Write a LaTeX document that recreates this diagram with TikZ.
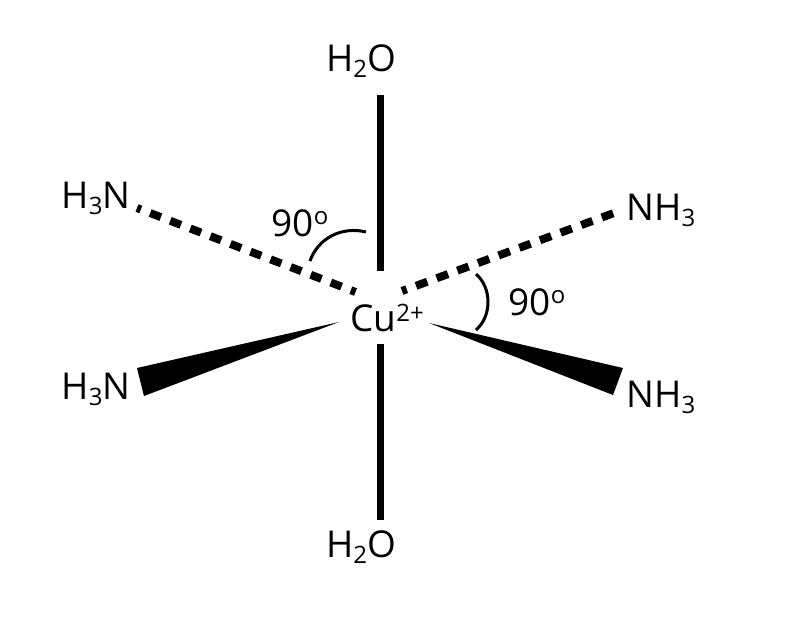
\documentclass[tikz,border=0pt]{standalone}
\usepackage{fontspec}
\setmainfont{Open Sans}
\newcommand{\subn}[1]{\raisebox{-0.3ex}{\fontsize{24}{24}\selectfont #1}}
\newcommand{\supn}[1]{\raisebox{0.55ex}{\fontsize{24}{24}\selectfont #1}}
\begin{document}
\begin{tikzpicture}[x=1pt,y=-1pt,
  lab/.style={inner sep=0pt,font=\fontsize{37}{37}\selectfont,text=black,anchor=center},
  bond/.style={line width=7pt,black},
  hashl/.style={line width=8pt,black,dash pattern=on 11.5pt off 10pt,dash phase=6.5pt},
  hashr/.style={line width=8pt,black,dash pattern=on 12pt off 10pt,dash phase=7pt},
  arcl/.style={line width=3pt,black}]
\useasboundingbox (0,0) rectangle (804,630);
\node[lab] (cu) at (387,318) {Cu\supn{2+}};
\node[lab] (wt) at (361,61) {H\subn{2}O};
\node[lab] (wb) at (361,547) {H\subn{2}O};
\node[lab] (ntl) at (96,198) {H\subn{3}N};
\node[lab] (nbl) at (96,389) {H\subn{3}N};
\node[lab] (ntr) at (661,210) {NH\subn{3}};
\node[lab] (nbr) at (661,397) {NH\subn{3}};
\node[lab] (a1) at (300,223) {90\raisebox{0.6ex}{\fontsize{24}{24}\selectfont o}};
\node[lab] (a2) at (537,302) {90\raisebox{0.6ex}{\fontsize{24}{24}\selectfont o}};
\coordinate (t1) at (380.5,95);
\coordinate (t2) at (380.5,271);
\coordinate (b1) at (380.5,344);
\coordinate (b2) at (380.5,520);
\draw[bond] (t1) -- (t2);
\draw[bond] (b1) -- (b2);
\coordinate (h1) at (355.5,292);
\coordinate (h2) at (137,208);
\coordinate (h3) at (402,291);
\coordinate (h4) at (614,213);
\draw[hashl] (h1) -- (h2);
\draw[hashr] (h3) -- (h4);
\coordinate (w1) at (339,322);
\coordinate (w2) at (137,368);
\coordinate (w3) at (144,396);
\coordinate (w4) at (429,323);
\coordinate (w5) at (623,368);
\coordinate (w6) at (613,395);
\fill[black] (w1) -- (w2) -- (w3) -- cycle;
\fill[black] (w4) -- (w5) -- (w6) -- cycle;
\coordinate (c1) at (310,261);
\coordinate (c2) at (366,232);
\draw[arcl] (c1) .. controls (318,238) and (342,226) .. (c2);
\coordinate (c3) at (476,274);
\coordinate (c4) at (476,330);
\draw[arcl] (c3) .. controls (492,288) and (492,316) .. (c4);
\end{tikzpicture}
\end{document}
